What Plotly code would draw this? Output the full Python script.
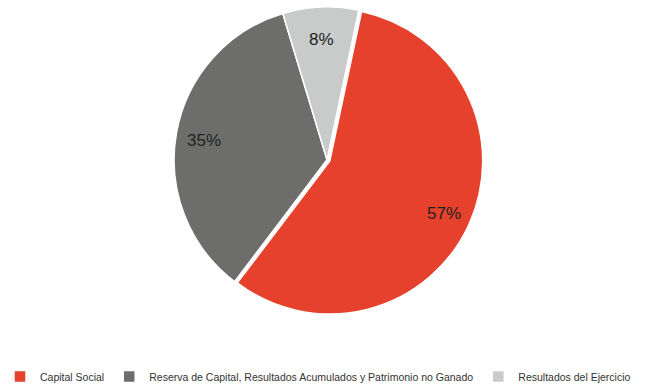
import math
import plotly.graph_objects as go

# Composición del capital contable
labels = [
    "Capital Social",
    "Reserva de Capital, Resultados Acumulados y Patrimonio no Ganado",
    "Resultados del Ejercicio",
]
values = [57, 35, 8]
colors = ["#E5412D", "#6D6E6C", "#C9CACA"]
pulls = [0.02, 0, 0]

W, H = 652, 391
ROTATION = 12            # start angle of the first slice, degrees clockwise from 12 o'clock
CX, CY, R = 327, 164, 153  # pie centre and radius in pixels
LABEL_RADIUS = 0.82      # label distance from the centre, as a fraction of the radius

half = R * (1 + max(pulls)) + 4
domain_x = [(CX - half) / W, (CX + half) / W]
domain_y = [(H - CY - half) / H, (H - CY + half) / H]

fig = go.Figure(
    go.Pie(
        labels=labels,
        values=values,
        sort=False,
        direction="clockwise",
        rotation=ROTATION,
        pull=pulls,
        marker=dict(colors=colors, line=dict(color="white", width=1.5)),
        textinfo="none",
        domain=dict(x=domain_x, y=domain_y),
        hoverinfo="label+percent",
    )
)

# Percentage labels placed at each slice's mid-angle
total = sum(values)
start = ROTATION
for v, p in zip(values, pulls):
    sweep = 360 * v / total
    mid = math.radians(start + sweep / 2)
    dist = R * (LABEL_RADIUS + p)
    px = CX + dist * math.sin(mid)
    py = CY - dist * math.cos(mid) + 2
    fig.add_annotation(
        x=px / W,
        y=(H - py) / H,
        xref="paper",
        yref="paper",
        text=f"{round(100 * v / total)}%",
        showarrow=False,
        font=dict(family="Liberation Sans", size=17, color="#222222"),
        xanchor="center",
        yanchor="middle",
    )
    start += sweep

fig.update_layout(
    width=W,
    height=H,
    margin=dict(l=0, r=0, t=0, b=0),
    paper_bgcolor="white",
    plot_bgcolor="white",
    font=dict(family="Liberation Sans", color="#333333"),
    showlegend=True,
    legend=dict(
        orientation="h",
        x=0,
        xanchor="left",
        y=0.012,
        yanchor="middle",
        font=dict(size=10.5, color="#333333"),
        itemwidth=30,
    ),
)

fig.write_html("out.html")
